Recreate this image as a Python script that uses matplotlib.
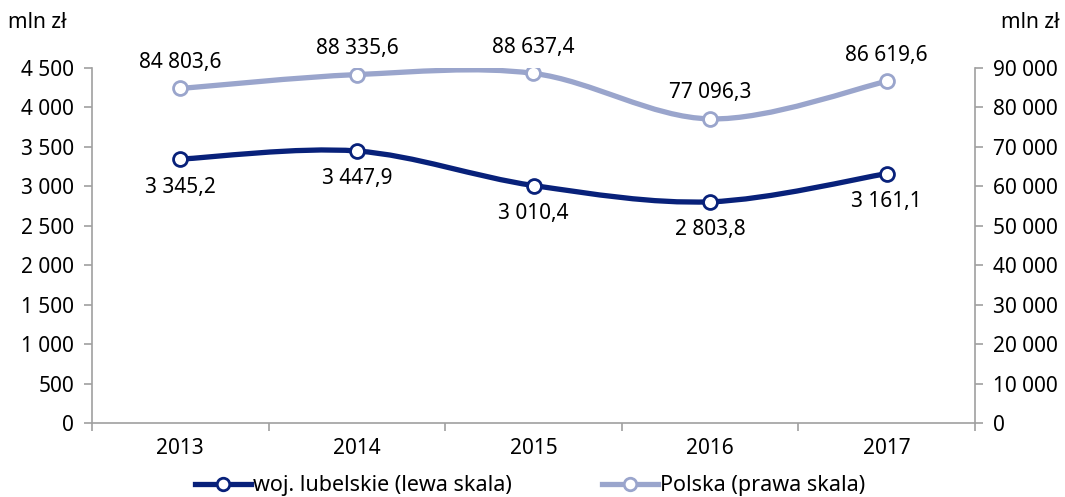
import numpy as np
import matplotlib
matplotlib.use("Agg")
import matplotlib.pyplot as plt
from matplotlib.path import Path
from matplotlib.patches import PathPatch
from matplotlib.lines import Line2D

plt.rcParams['font.family'] = ['Noto Sans', 'DejaVu Sans']

years = ['2013', '2014', '2015', '2016', '2017']
lubelskie = [3345.2, 3447.9, 3010.4, 2803.8, 3161.1]
polska = [84803.6, 88335.6, 88637.4, 77096.3, 86619.6]
left_ticks = [0, 500, 1000, 1500, 2000, 2500, 3000, 3500, 4000, 4500]
right_ticks = [0, 10000, 20000, 30000, 40000, 50000, 60000, 70000, 80000, 90000]
label_lub = 'woj. lubelskie (lewa skala)'
label_pol = 'Polska (prawa skala)'

c_dark = '#08217A'
c_light = '#9AA5CC'
c_axis = '#A0A0A0'

def fmt(v, dec=0):
    s = f"{v:,.{dec}f}".replace(',', ' ').replace('.', ',')
    return s

def smooth_path(xs, ys):
    xs = np.asarray(xs, float); ys = np.asarray(ys, float)
    n = len(xs)
    verts = [(xs[0], ys[0])]
    codes = [Path.MOVETO]
    for i in range(n - 1):
        i0 = max(i - 1, 0); i3 = min(i + 2, n - 1)
        c1 = (xs[i] + (xs[i + 1] - xs[i0]) / 6, ys[i] + (ys[i + 1] - ys[i0]) / 6)
        c2 = (xs[i + 1] - (xs[i3] - xs[i]) / 6, ys[i + 1] - (ys[i3] - ys[i]) / 6)
        verts += [c1, c2, (xs[i + 1], ys[i + 1])]
        codes += [Path.CURVE4] * 3
    return Path(verts, codes)

fig = plt.figure(figsize=(10.65, 4.97), dpi=100)
ax = fig.add_axes([92 / 1065, 1 - 423 / 497, (975 - 92) / 1065, (423 - 68) / 497])
ax2 = ax.twinx()

x = np.arange(len(years))
lw = 3.8
ms = 10

ax.add_patch(PathPatch(smooth_path(x, lubelskie), fill=False, edgecolor=c_dark, lw=lw, capstyle='round', zorder=3))
ax.plot(x, lubelskie, ls='none', marker='o', ms=ms, mfc='white', mec=c_dark, mew=2, zorder=4)
ax2.add_patch(PathPatch(smooth_path(x, polska), fill=False, edgecolor=c_light, lw=lw, capstyle='round', zorder=3))
ax2.plot(x, polska, ls='none', marker='o', ms=ms, mfc='white', mec=c_light, mew=2, zorder=4)

fs = 15
for xi, v in zip(x, lubelskie):
    ax.annotate(fmt(v, 1), (xi, v), xytext=(0, -28), textcoords='offset pixels',
                ha='center', va='center', fontsize=fs, color='black')
for xi, v in zip(x, polska):
    ax2.annotate(fmt(v, 1), (xi, v), xytext=(0, 26), textcoords='offset pixels',
                 ha='center', va='center', fontsize=fs, color='black')

ax.set_xlim(-0.5, len(years) - 0.5)
ax.set_ylim(0, 4500)
ax2.set_ylim(0, 90000)
ax.set_yticks(left_ticks)
ax.set_yticklabels([fmt(t) for t in left_ticks])
ax2.set_yticks(right_ticks)
ax2.set_yticklabels([fmt(t) for t in right_ticks])

ax.set_xticks(x)
ax.set_xticklabels(years)
ax.set_xticks(np.arange(-0.5, len(years)), minor=True)
ax.tick_params(axis='x', which='major', length=0, pad=11, labelsize=fs)
ax.tick_params(axis='x', which='minor', length=6, color=c_axis, width=1.2, direction='out')
ax.tick_params(axis='y', length=6, color=c_axis, width=1.2, labelsize=fs, pad=7)
ax2.tick_params(axis='y', length=6, color=c_axis, width=1.2, labelsize=fs, pad=7)

for a in (ax, ax2):
    a.spines['top'].set_visible(False)
    for s in ('left', 'right', 'bottom'):
        a.spines[s].set_color(c_axis)
        a.spines[s].set_linewidth(1.2)
ax.spines['right'].set_visible(False)
ax2.spines['left'].set_visible(False)
ax2.spines['bottom'].set_visible(False)

fig.text(8 / 1065, 1 - 22 / 497, 'mln zł', fontsize=fs, ha='left', va='center')
fig.text(1060 / 1065, 1 - 22 / 497, 'mln zł', fontsize=fs, ha='right', va='center')

handles = [
    Line2D([], [], color=c_dark, lw=lw, marker='o', ms=9, mfc='white', mec=c_dark, mew=2),
    Line2D([], [], color=c_light, lw=lw, marker='o', ms=9, mfc='white', mec=c_light, mew=2),
]
fig.legend(handles, [label_lub, label_pol], loc='center', bbox_to_anchor=(530 / 1065, 1 - 486 / 497),
           ncol=2, frameon=False, fontsize=15.5, handlelength=2.6, handletextpad=0.1, columnspacing=4.2)

fig.savefig('out.png', dpi=100)
